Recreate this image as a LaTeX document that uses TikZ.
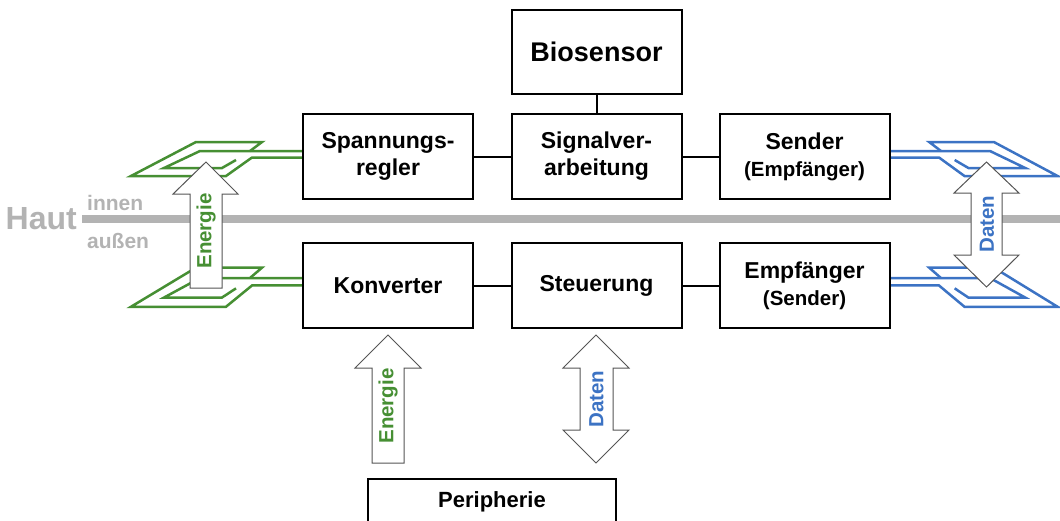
\documentclass[tikz,border=0pt]{standalone}
\usepackage{fontspec}
\setmainfont{Liberation Sans}
\definecolor{cgreen}{HTML}{468F33}
\definecolor{cblue}{HTML}{3C73C4}
\definecolor{cgray}{HTML}{B3B3B3}
\definecolor{aline}{HTML}{555555}
\begin{document}
\begin{tikzpicture}[x=1pt,y=-1pt,
  box/.style={draw, fill=white, line width=2pt, minimum width=170pt, minimum height=85pt,
    align=center, inner sep=0pt, font=\fontsize{23}{27}\selectfont\bfseries},
  conn/.style={line width=2pt},
  lead/.style={line width=2.5pt, line join=miter},
  arr/.style={draw=aline, fill=white, line width=1pt, line join=miter},
  albl/.style={rotate=90, inner sep=0pt, font=\fontsize{20.5}{24}\selectfont\bfseries},
  skin/.style={inner sep=0pt, text=cgray, font=\fontsize{21}{24}\selectfont\bfseries},
  coil/.pic={
    \draw[lead] (0,6.5) -- (-51,6.5) -- (-77,25) -- (-172,25) -- (-107,-9) -- (-41,-9) -- (-53,0);
    \draw[lead] (0,0) -- (-103,0) -- (-139,17) -- (-81,17) -- (-67,9);
  }]
\useasboundingbox (0,0) rectangle (1060,520);
\clip (0,0) rectangle (1060,520);

% skin line
\coordinate (skinL) at (82,219);
\coordinate (skinR) at (1060,219);
\draw[cgray, line width=8pt] (skinL) -- (skinR);
\node[skin, anchor=east, font=\fontsize{32}{35}\selectfont\bfseries] (haut) at (77,219) {Haut};
\node[skin, anchor=base west] (innen) at (87,210) {innen};
\node[skin, anchor=base west] (aussen) at (87,248) {außen};

% coils
\begin{scope}[color=cgreen]
  \pic at (303,151) {coil};
  \pic[yscale=1.15] at (303,278) {coil};
\end{scope}
\begin{scope}[color=cblue]
  \pic[xscale=-0.98] at (889,151) {coil};
  \pic[xscale=-0.98, yscale=1.15] at (889,278) {coil};
\end{scope}

% arrows
\draw[arr] (190,288) -- (190,194) -- (173,194) -- (206,162) -- (238,194) -- (222,194) -- (222,288) -- cycle;
\draw[arr] (971,255) -- (971,193) -- (954,193) -- (986.5,162) -- (1019,193) -- (1002,193)
  -- (1002,255) -- (1019,255) -- (986.5,287) -- (954,255) -- cycle;
\draw[arr] (372,463) -- (372,368) -- (355,368) -- (388,335) -- (421,368) -- (404,368) -- (404,463) -- cycle;
\draw[arr] (580,430) -- (580,368) -- (563,368) -- (596,335) -- (629,368) -- (613,368)
  -- (613,430) -- (629,430) -- (596,463) -- (563,430) -- cycle;
\node[albl, text=cgreen] (e1) at (206,231) {Energie};
\node[albl, text=cblue] (d1) at (987,224) {Daten};
\node[albl, text=cgreen] (e2) at (388,406) {Energie};
\node[albl, text=cblue] (d2) at (596.5,399) {Daten};

% boxes
\node[box, font=\fontsize{27}{30}\selectfont\bfseries, minimum height=84pt] (bio) at (596.5,52) {Biosensor};
\node[box] (spr) at (388,156.5) {Spannungs-\\regler};
\node[box] (sig) at (596.5,156.5) {Signalver-\\arbeitung};
\node[box] (snd) at (804.5,156.5) {Sender\\{\fontsize{20.5}{25}\selectfont (Empfänger)}};
\node[box] (konv) at (388,285.5) {Konverter};
\node[box] (steu) at (596.5,285.5) {Steuerung};
\node[box] (emp) at (804.5,285.5) {Empfänger\\{\fontsize{20.5}{25}\selectfont (Sender)}};
\node[box, minimum width=248pt, minimum height=46pt, font=\fontsize{22}{26}\selectfont\bfseries] (peri) at (492,502) {Peripherie};

% connectors
\draw[conn] (bio) -- (sig);
\draw[conn] (spr) -- (sig);
\draw[conn] (sig) -- (snd);
\draw[conn] (konv) -- (steu);
\draw[conn] (steu) -- (emp);
\end{tikzpicture}
\end{document}
